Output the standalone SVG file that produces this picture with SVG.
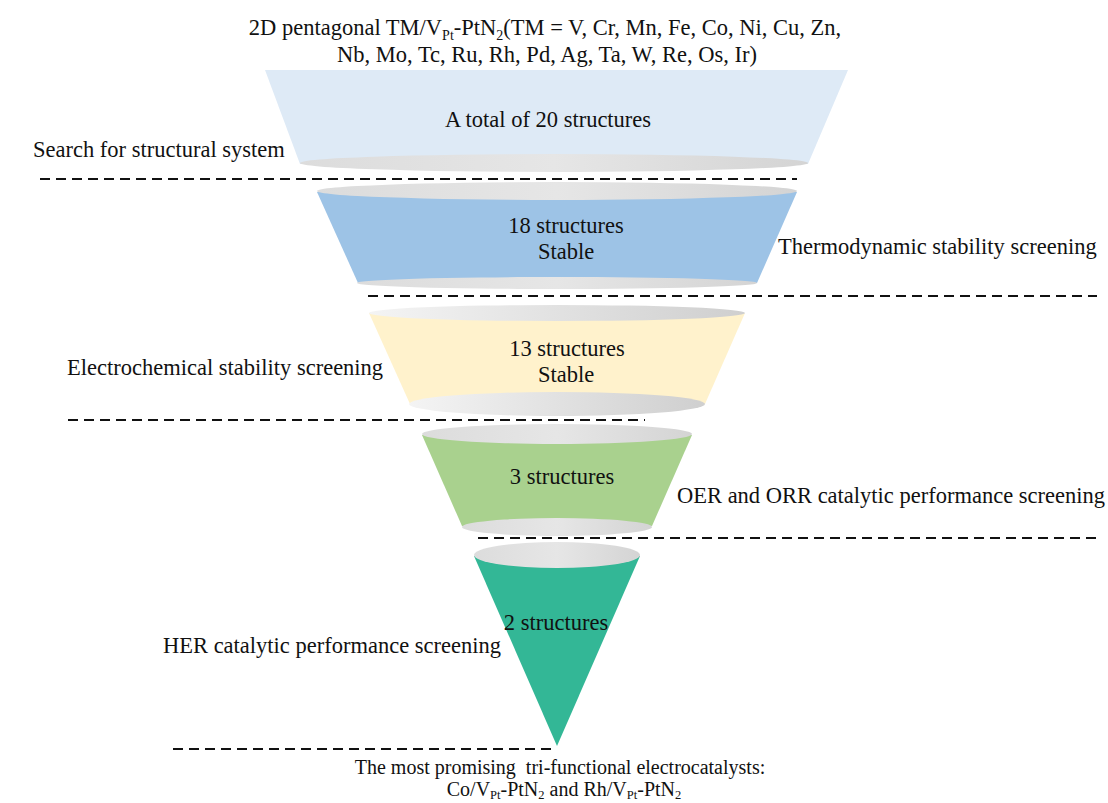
<svg xmlns="http://www.w3.org/2000/svg" width="1108" height="803" viewBox="0 0 1108 803">
<defs>
<linearGradient id="g" x1="0" y1="0" x2="1" y2="0">
<stop offset="0" stop-color="#dcdcdc"/><stop offset="0.5" stop-color="#e6e6e6"/><stop offset="1" stop-color="#d4d4d4"/>
</linearGradient>
<linearGradient id="g2" x1="0" y1="0" x2="1" y2="0">
<stop offset="0" stop-color="#f4f4f4"/><stop offset="1" stop-color="#cfcfcf"/>
</linearGradient>
</defs>
<style>
text{font-family:"Liberation Serif","Times New Roman",serif;font-size:22.5px;fill:#111}
.c{text-anchor:middle}
.s{font-size:14px}
.b{font-size:20px}
.bs{font-size:12.5px}
.d{stroke:#111;stroke-width:2.2;stroke-dasharray:10 6;fill:none}
.e{fill:url(#g)}
</style>
<rect width="1108" height="803" fill="#fff"/>
<g id="title">
<text class="c" x="545" y="35">2D pentagonal TM/V<tspan class="s" dy="5">Pt</tspan><tspan dy="-5">-PtN</tspan><tspan class="s" dy="5">2</tspan><tspan dy="-5">(TM = V, Cr, Mn, Fe, Co, Ni, Cu, Zn,</tspan></text>
<text class="c" x="547" y="62">Nb, Mo, Tc, Ru, Rh, Pd, Ag, Ta, W, Re, Os, Ir)</text>
</g>
<g id="layer1">
<polygon points="265,70 848,70 808,164 300,164" fill="#deeaf6"/>
<ellipse cx="554" cy="163" rx="254" ry="9" class="e"/>
<text class="c" x="548" y="127">A total of 20 structures</text>
</g>
<g id="layer2">
<polygon points="317,192 797,192 757,283 358,283" fill="#9dc3e6"/>
<ellipse cx="557" cy="191" rx="240" ry="9" class="e"/>
<ellipse cx="557" cy="283" rx="200" ry="6" class="e"/>
<text class="c" x="566" y="233">18 structures</text>
<text class="c" x="566" y="259">Stable</text>
</g>
<g id="layer3">
<polygon points="369,313 745,313 705,404 410,404" fill="#fff2cc"/>
<ellipse cx="557" cy="313" rx="188" ry="8" fill="url(#g2)"/>
<ellipse cx="557" cy="404" rx="148" ry="12" fill="url(#g2)"/>
<text class="c" x="567" y="356">13 structures</text>
<text class="c" x="566" y="382">Stable</text>
</g>
<g id="layer4">
<polygon points="422,435 692,435 652,526 462,526" fill="#a9d18e"/>
<ellipse cx="557" cy="434" rx="135" ry="10" class="e"/>
<ellipse cx="557" cy="527" rx="95" ry="9" class="e"/>
<text class="c" x="562" y="484">3 structures</text>
</g>
<g id="layer5">
<polygon points="474,556 640,556 557,746" fill="#33b796"/>
<ellipse cx="557" cy="555" rx="83" ry="13" class="e"/>
<text class="c" x="556" y="630">2 structures</text>
</g>
<g id="connectors">
<line class="d" x1="40" y1="179" x2="797" y2="179"/>
<line class="d" x1="368" y1="296" x2="1097" y2="296"/>
<line class="d" x1="68" y1="420" x2="645" y2="420"/>
<line class="d" x1="478" y1="538" x2="1100" y2="538"/>
<line class="d" x1="173" y1="749" x2="553" y2="749"/>
</g>
<g id="labels">
<text x="33" y="157">Search for structural system</text>
<text x="778" y="254">Thermodynamic stability screening</text>
<text x="67" y="375">Electrochemical stability screening</text>
<text x="677" y="503">OER and ORR catalytic performance screening</text>
<text x="163" y="653">HER catalytic performance screening</text>
</g>
<g id="result">
<text class="c b" x="560" y="774" xml:space="preserve">The most promising  tri-functional electrocatalysts:</text>
<text class="c b" x="564" y="796">Co/V<tspan class="bs" dy="3">Pt</tspan><tspan dy="-3">-PtN</tspan><tspan class="bs" dy="3">2</tspan><tspan dy="-3"> and Rh/V</tspan><tspan class="bs" dy="3">Pt</tspan><tspan dy="-3">-PtN</tspan><tspan class="bs" dy="3">2</tspan></text>
</g>
</svg>
